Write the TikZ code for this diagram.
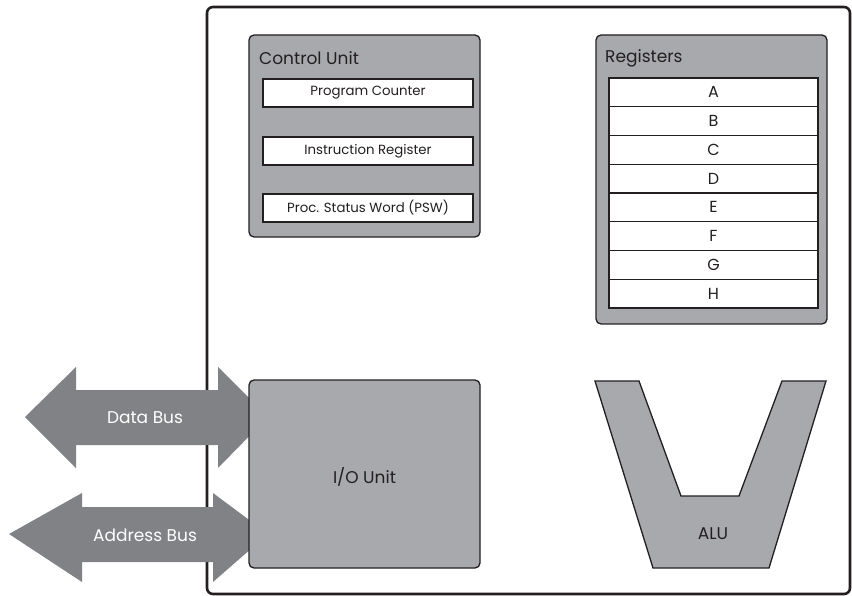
\documentclass[tikz,border=0pt]{standalone}
\usepackage{fontspec}
\setmainfont{Poppins}
\definecolor{boxgray}{HTML}{A7A9AC}
\definecolor{busgray}{HTML}{808285}
\definecolor{linec}{HTML}{231F20}
\begin{document}
\begin{tikzpicture}[x=1pt,y=-1pt,
  outerbox/.style={draw=linec,line width=2.6pt,rounded corners=6pt},
  unitbox/.style={draw=linec,line width=1.3pt,fill=boxgray,rounded corners=5pt},
  cell/.style={draw=linec,line width=1.1pt,fill=white,inner sep=0pt,text=linec,font=\fontsize{13.3}{15}\selectfont},
  regcell/.style={draw=linec,line width=1.1pt,fill=white,minimum width=209pt,minimum height=28.75pt,inner sep=0pt,text=linec,font=\fontsize{16}{18}\selectfont},
  title/.style={anchor=west,inner sep=0pt,font=\fontsize{17}{19}\selectfont,text=linec},
  bus/.style={fill=busgray,draw=none},
  buslabel/.style={text=white,font=\fontsize{17}{19}\selectfont,inner sep=0pt},
  plain/.style={inner sep=0pt,font=\fontsize{17}{19}\selectfont,text=linec}]
\useasboundingbox (0,0) rectangle (852,596);
% outer CPU box
\draw[outerbox] (207,7) rectangle (850,594);
% buses (drawn over the outer border)
\fill[bus] (25,417) -- (76,367) -- (76,390) -- (218,390) -- (218,367) -- (268,417)
  -- (218,468) -- (218,445) -- (76,445) -- (76,468) -- cycle;
\node[buslabel] (databus) at (145,418) {Data Bus};
\fill[bus] (9,534) -- (82,493) -- (82,507) -- (213,507) -- (213,493) -- (268,534)
  -- (213,582) -- (213,562) -- (82,562) -- (82,582) -- cycle;
\node[buslabel] (addrbus) at (145,535) {Address Bus};
% Control unit
\node[unitbox,minimum width=231pt,minimum height=202pt,inner sep=0pt] (cu) at (364.5,136) {};
\node[title] (cutitle) at (259,58) {Control Unit};
\node[cell,minimum width=210pt,minimum height=28pt] (pc) at (368,93) {Program Counter};
\node[cell,minimum width=210pt,minimum height=28pt] (ir) at (368,151) {Instruction Register};
\node[cell,minimum width=210pt,minimum height=28pt] (psw) at (368,208) {Proc. Status Word (PSW)};
% Registers
\node[unitbox,minimum width=231pt,minimum height=289pt,inner sep=0pt] (regs) at (711.5,179.5) {};
\node[title] (regtitle) at (605,58) {Registers};
\foreach \r [count=\i from 0] in {A,B,C,D,E,F,G,H}{
  \node[regcell] (reg\r) at (713.5,{92.4+28.75*\i}) {\r};
}
% I/O unit
\node[unitbox,minimum width=231pt,minimum height=188pt,inner sep=0pt] (io) at (364.5,474) {};
\node[plain] (iotext) at (364.5,477) {I/O Unit};
% ALU
\draw[draw=linec,line width=1.3pt,fill=boxgray,line join=miter]
  (595,381) -- (639,381) -- (681,496) -- (739,496) -- (782,381) -- (826,381)
  -- (769,568) -- (653,568) -- cycle;
\node[plain] (alu) at (713,534) {ALU};
\end{tikzpicture}
\end{document}
